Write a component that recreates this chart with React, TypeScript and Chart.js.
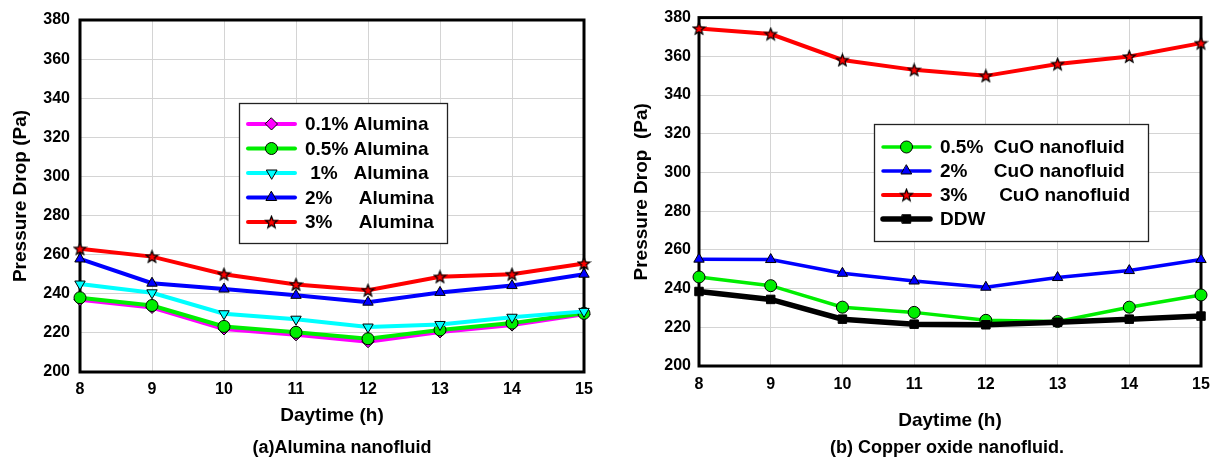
import React, { useEffect, useRef } from 'react';
import { Chart, registerables } from 'chart.js';

Chart.register(...registerables);

// ---------- data ----------
const hours = ['8', '9', '10', '11', '12', '13', '14', '15'];

const alumina01 = [237, 233, 222, 219, 215.5, 220.5, 224, 229.5];
const alumina05 = [238, 234, 223.3, 220.3, 217, 221.5, 225, 230];
const alumina1 = [245, 240.5, 229.8, 227, 223, 224.3, 228, 231];
const alumina2 = [257.8, 245.4, 242.4, 239.2, 235.7, 240.7, 244.2, 250];
const alumina3 = [263, 259, 250, 244.8, 241.8, 248.7, 250, 255.5];

const cuo05 = [246, 241.5, 230.4, 227.7, 223.6, 223, 230.4, 236.7];
const cuo2 = [255.2, 255, 247.9, 243.9, 240.7, 245.7, 249.3, 255];
const cuo3 = [374.4, 371.5, 358.1, 353, 349.9, 356, 359.9, 366.8];
const ddw = [238.5, 234.4, 224.2, 221.6, 221.3, 222.6, 224.2, 225.8];

const yTicksMin = 200;
const yTicksMax = 380;
const yTickStep = 20;

const leftLabels = ['0.1% Alumina', '0.5% Alumina', ' 1%   Alumina', '2%     Alumina', '3%     Alumina'];
const rightLabels = ['0.5%  CuO nanofluid', '2%     CuO nanofluid', '3%      CuO nanofluid', 'DDW'];

const FONT = '"Liberation Sans", Arial, Helvetica, sans-serif';

function makeStar(fill: string): HTMLCanvasElement {
  const size = 15;
  const c = document.createElement('canvas');
  c.width = size;
  c.height = size;
  const g = c.getContext('2d')!;
  g.translate(size / 2, size / 2 + 0.5);
  g.beginPath();
  for (let i = 0; i < 10; i++) {
    const r = i % 2 === 0 ? 6.3 : 2.7;
    const a = -Math.PI / 2 + (i * Math.PI) / 5;
    const px = r * Math.cos(a);
    const py = r * Math.sin(a);
    if (i === 0) g.moveTo(px, py);
    else g.lineTo(px, py);
  }
  g.closePath();
  g.fillStyle = fill;
  g.fill();
  g.lineWidth = 1.2;
  g.strokeStyle = '#000';
  g.stroke();
  return c;
}

function drawMarker(ctx: CanvasRenderingContext2D, ds: any, x: number, y: number) {
  const style = ds.pointStyle;
  const r = ds.pointRadius;
  if (typeof style !== 'string') {
    ctx.drawImage(style, x - style.width / 2, y - style.height / 2);
    return;
  }
  ctx.save();
  ctx.translate(x, y);
  ctx.rotate(((ds.pointRotation || 0) * Math.PI) / 180);
  ctx.beginPath();
  if (style === 'circle') {
    ctx.arc(0, 0, r, 0, Math.PI * 2);
  } else if (style === 'rectRot') {
    ctx.moveTo(0, -r);
    ctx.lineTo(r, 0);
    ctx.lineTo(0, r);
    ctx.lineTo(-r, 0);
    ctx.closePath();
  } else if (style === 'triangle') {
    for (let i = 0; i < 3; i++) {
      const a = (i * 2 * Math.PI) / 3;
      const px = Math.sin(a) * r;
      const py = -Math.cos(a) * r;
      if (i === 0) ctx.moveTo(px, py);
      else ctx.lineTo(px, py);
    }
    ctx.closePath();
  } else {
    const s = r * Math.SQRT1_2;
    ctx.rect(-s, -s, 2 * s, 2 * s);
  }
  ctx.fillStyle = ds.pointBackgroundColor;
  ctx.fill();
  ctx.lineWidth = ds.pointBorderWidth;
  ctx.strokeStyle = ds.pointBorderColor;
  ctx.stroke();
  ctx.restore();
}

interface LegendCfg {
  box: [number, number, number, number];
  row0: number;
  rowStep: number;
  line0: number;
  line1: number;
  textX: number;
}

function legendPlugin(cfg: LegendCfg) {
  return {
    id: 'boxLegend',
    afterDraw(chart: any) {
      const ctx: CanvasRenderingContext2D = chart.ctx;
      const [bx, by, bw, bh] = cfg.box;
      ctx.save();
      ctx.fillStyle = '#fff';
      ctx.fillRect(bx, by, bw, bh);
      ctx.lineWidth = 1.3;
      ctx.strokeStyle = '#222';
      ctx.strokeRect(bx + 0.5, by + 0.5, bw, bh);
      chart.data.datasets.forEach((ds: any, i: number) => {
        const y = cfg.row0 + i * cfg.rowStep;
        ctx.beginPath();
        ctx.moveTo(cfg.line0, y);
        ctx.lineTo(cfg.line1, y);
        ctx.lineWidth = ds.borderWidth;
        ctx.strokeStyle = ds.borderColor;
        ctx.lineCap = 'round';
        ctx.stroke();
        drawMarker(ctx, ds, (cfg.line0 + cfg.line1) / 2, y);
        ctx.fillStyle = '#000';
        ctx.font = `bold 19px ${FONT}`;
        ctx.textBaseline = 'middle';
        ctx.textAlign = 'left';
        ctx.fillText(ds.label, cfg.textX, y + 1);
      });
      ctx.restore();
    },
  };
}

const framePlugin = {
  id: 'frame',
  beforeDatasetsDraw(chart: any) {
    const { ctx, chartArea } = chart;
    ctx.save();
    ctx.lineWidth = 3;
    ctx.strokeStyle = '#000';
    ctx.strokeRect(chartArea.left, chartArea.top, chartArea.right - chartArea.left, chartArea.bottom - chartArea.top);
    ctx.restore();
  },
};

interface AxisCfg {
  padRight: number;
  padTop: number;
  padBottom: number;
  xAxisH: number;
  yAxisW: number;
  xTickPad: number;
  yTickPad: number;
  yTitle: string;
  yTitlePad: number;
}

function buildOptions(c: AxisCfg): any {
  const gridColor = '#d4d4d4';
  return {
    responsive: false,
    animation: false,
    events: [],
    layout: { padding: { left: 0, right: c.padRight, top: c.padTop, bottom: c.padBottom } },
    plugins: { legend: { display: false }, tooltip: { enabled: false }, title: { display: false } },
    scales: {
      x: {
        type: 'category',
        offset: false,
        grid: { color: gridColor, lineWidth: 1, drawTicks: false },
        border: { display: false },
        ticks: { font: { size: 16, weight: 'bold', family: FONT }, color: '#000', padding: c.xTickPad, maxRotation: 0, autoSkip: false },
        title: { display: true, text: 'Daytime (h)', color: '#000', font: { size: 19, weight: 'bold', family: FONT }, padding: { top: 0, bottom: 0 } },
        afterFit: (s: any) => {
          s.height = c.xAxisH;
        },
      },
      y: {
        type: 'linear',
        min: yTicksMin,
        max: yTicksMax,
        grid: { color: gridColor, lineWidth: 1, drawTicks: false },
        border: { display: false },
        ticks: { stepSize: yTickStep, font: { size: 16, weight: 'bold', family: FONT }, color: '#000', padding: c.yTickPad },
        title: { display: true, text: c.yTitle, color: '#000', font: { size: 19, weight: 'bold', family: FONT }, padding: { top: c.yTitlePad, bottom: 0 } },
        afterFit: (s: any) => {
          s.width = c.yAxisW;
        },
      },
    },
  };
}

function series(label: string, data: number[], color: string, width: number, style: any, radius: number, order: number, rotation = 0) {
  return {
    label,
    data,
    borderColor: color,
    backgroundColor: color,
    borderWidth: width,
    pointStyle: style,
    pointRadius: radius,
    pointRotation: rotation,
    pointBackgroundColor: color,
    pointBorderColor: '#000',
    pointBorderWidth: 1,
    tension: 0,
    clip: false,
    order,
  };
}

export default function App() {
  const leftRef = useRef<HTMLCanvasElement>(null);
  const rightRef = useRef<HTMLCanvasElement>(null);

  useEffect(() => {
    document.body.style.margin = '0';
    Chart.defaults.font.family = FONT;
    Chart.defaults.color = '#000';
    const redStar = makeStar('#ff0000');

    const left = new Chart(leftRef.current!, {
      type: 'line',
      data: {
        labels: hours,
        datasets: [
          series(leftLabels[0], alumina01, '#ff00ff', 4, 'rectRot', 6, 5),
          series(leftLabels[1], alumina05, '#00ee00', 4, 'circle', 6, 4),
          series(leftLabels[2], alumina1, '#00ffff', 4, 'triangle', 6, 3, 180),
          series(leftLabels[3], alumina2, '#0000ff', 4, 'triangle', 6, 2),
          series(leftLabels[4], alumina3, '#ff0000', 4, redStar, 6, 1),
        ] as any,
      },
      options: buildOptions({
        padRight: 26,
        padTop: 20,
        padBottom: 13,
        xAxisH: 55,
        yAxisW: 80,
        xTickPad: 8,
        yTickPad: 10,
        yTitle: 'Pressure Drop (Pa)',
        yTitlePad: 9,
      }),
      plugins: [framePlugin, legendPlugin({ box: [239, 103, 208, 140], row0: 124, rowStep: 24.5, line0: 248, line1: 295, textX: 305 })],
    });

    const right = new Chart(rightRef.current!, {
      type: 'line',
      data: {
        labels: hours,
        datasets: [
          series(rightLabels[0], cuo05, '#00ee00', 3.5, 'circle', 6, 4),
          series(rightLabels[1], cuo2, '#0000ff', 3.5, 'triangle', 6, 3),
          series(rightLabels[2], cuo3, '#ff0000', 4, redStar, 6, 2),
          series(rightLabels[3], ddw, '#000000', 5.5, 'rect', 6, 1),
        ] as any,
      },
      options: buildOptions({
        padRight: 18,
        padTop: 16,
        padBottom: 8,
        xAxisH: 66,
        yAxisW: 89,
        xTickPad: 9,
        yTickPad: 8,
        yTitle: 'Pressure Drop  (Pa)',
        yTitlePad: 20,
      }),
      plugins: [framePlugin, legendPlugin({ box: [264, 124, 274, 117], row0: 147, rowStep: 24, line0: 273, line1: 320, textX: 330 })],
    });

    return () => {
      left.destroy();
      right.destroy();
    };
  }, []);

  const captionStyle: React.CSSProperties = {
    position: 'absolute',
    top: 437,
    width: 320,
    textAlign: 'center',
    fontFamily: FONT,
    fontWeight: 'bold',
    fontSize: 18,
    lineHeight: '20px',
    color: '#000',
    whiteSpace: 'pre',
  };

  return (
    <div style={{ position: 'fixed', left: 0, top: 0, width: 1219, height: 458, background: '#fff', overflow: 'hidden' }}>
      <canvas ref={leftRef} width={610} height={440} style={{ position: 'absolute', left: 0, top: 0, width: 610, height: 440 }} />
      <canvas ref={rightRef} width={609} height={440} style={{ position: 'absolute', left: 610, top: 0, width: 609, height: 440 }} />
      <div style={{ ...captionStyle, left: 342 - 160 }}>(a)Alumina nanofluid</div>
      <div style={{ ...captionStyle, left: 947 - 160 }}>(b) Copper oxide nanofluid.</div>
    </div>
  );
}
